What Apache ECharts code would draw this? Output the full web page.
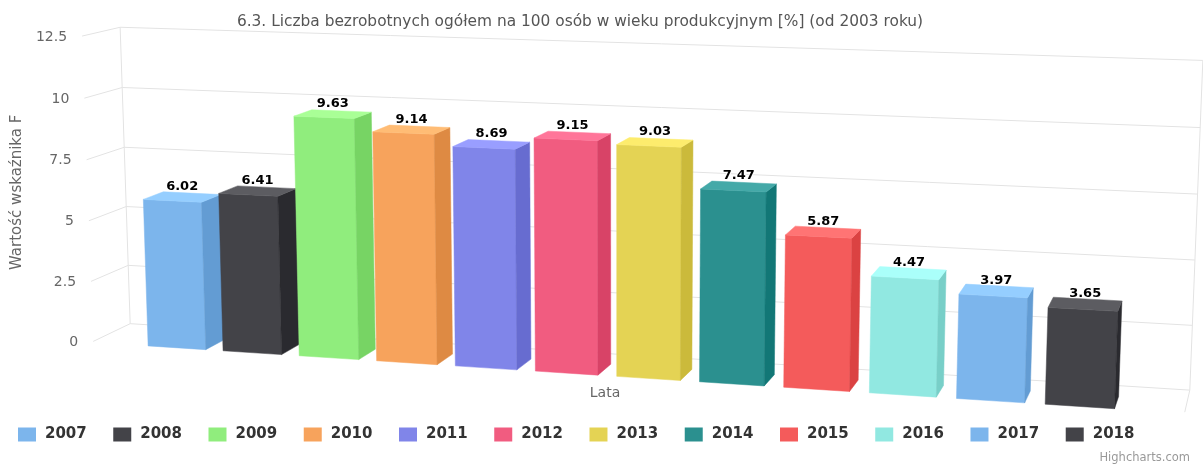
<!DOCTYPE html>
<html lang="pl">
<head>
    <meta charset="UTF-8">
    <title>Wykres 6.3</title>
    <style>
        html, body { margin: 0; padding: 0; background: #fff; }
        #chart { width: 1203px; height: 468px; }
    </style>
</head>
<body>
<div id="chart"></div>
<script src="https://cdn.jsdelivr.net/npm/echarts@6/dist/echarts.min.js"></script>
<script>
    // dane
    var years = ['2007', '2008', '2009', '2010', '2011', '2012', '2013', '2014', '2015', '2016', '2017', '2018'];
    var values = [6.02, 6.41, 9.63, 9.14, 8.69, 9.15, 9.03, 7.47, 5.87, 4.47, 3.97, 3.65];
    var yTicks = [0, 2.5, 5, 7.5, 10, 12.5];
    var yTickLabels = ['0', '2.5', '5', '7.5', '10', '12.5'];
    var colors = ['#7cb5ec', '#434348', '#90ed7d', '#f7a35c', '#8085e9', '#f15c80',
        '#e4d354', '#2b908f', '#f45b5b', '#91e8e1', '#7cb5ec', '#434348'];

    // "3D" - rzut perspektywiczny plaskiego ukladu wspolrzednych
    var ALPHA = 10.1 * Math.PI / 180;
    var BETA = 15.2 * Math.PI / 180;
    var VIEW = 2600;          // odleglosc obserwatora
    var CENTER = [620, 208];  // srodek pudelka na ekranie
    var DEPTH = 88;           // glebokosc ramki
    var PAD = 55;             // margines ramki po bokach
    var BAR_Z = -4, BAR_D = 48;
    var GRID_LINE = '#e3e3e3';

    function makeProj(cs) {
        var W = cs.width + 2 * PAD, H = cs.height;
        var ca = Math.cos(ALPHA), sa = Math.sin(ALPHA), cb = Math.cos(BETA), sb = Math.sin(BETA);
        return {
            W: W,
            H: H,
            // piksel siatki -> swiat
            wx: function (px) { return px - cs.x + PAD; },
            wy: function (py) { return cs.y + cs.height - py; },
            p: function (X, Y, Z) {
                var x = X - W / 2, y = Y - H / 2, z = Z - DEPTH / 2;
                var x1 = x * cb + z * sb, z1 = -x * sb + z * cb;
                var y2 = y * ca + z1 * sa, z2 = -y * sa + z1 * ca;
                var s = VIEW / (VIEW + z2);
                return [CENTER[0] + x1 * s, CENTER[1] - y2 * s];
            }
        };
    }

    function shade(hex, d) {
        var n = parseInt(hex.slice(1), 16);
        var r = Math.max(0, Math.min(255, (n >> 16) + d));
        var g = Math.max(0, Math.min(255, ((n >> 8) & 255) + d));
        var b = Math.max(0, Math.min(255, (n & 255) + d));
        return 'rgb(' + r + ',' + g + ',' + b + ')';
    }

    function line(a, b) {
        return {
            type: 'line',
            shape: {x1: a[0], y1: a[1], x2: b[0], y2: b[1]},
            style: {stroke: GRID_LINE, lineWidth: 1}
        };
    }

    // ramka: linie siatki na tylnej i lewej scianie + etykiety osi Y
    function renderFrame(params, api) {
        var cs = params.coordSys;
        var pr = makeProj(cs);
        var t = api.value(1);
        var Y = pr.wy(api.coord([0, t])[1]);
        var front = pr.p(0, Y, 0), back = pr.p(0, Y, DEPTH), backR = pr.p(pr.W, Y, DEPTH);
        var children = [
            line(front, back),
            line(back, backR),
            {
                type: 'text',
                x: front[0] - 15,
                y: front[1] + 1,
                style: {
                    text: yTickLabels[params.dataIndex],
                    fill: '#666',
                    fontSize: 14,
                    fontFamily: 'DejaVu Sans',
                    align: 'right',
                    verticalAlign: 'middle'
                }
            }
        ];
        if (params.dataIndex === 0) {
            children.push(line(pr.p(0, 0, DEPTH), pr.p(0, pr.H, DEPTH)));
            children.push(line(pr.p(pr.W, 0, DEPTH), pr.p(pr.W, pr.H, DEPTH)));
            children.push(line(pr.p(pr.W, 0, 0), pr.p(pr.W, 0, DEPTH)));
        }
        return {type: 'group', children: children};
    }

    function renderBar(params, api) {
        var cs = params.coordSys;
        var pr = makeProj(cs);
        var idx = api.value(0), v = api.value(1);
        var top = api.coord([idx, v]), base = api.coord([idx, 0]);
        var bw = api.size([1, 0])[0] * 0.77;
        var xl = pr.wx(top[0] - bw / 2), xr = xl + bw;
        var yt = pr.wy(top[1]), yb = pr.wy(base[1]);
        var z0 = BAR_Z, z1 = BAR_Z + BAR_D;
        var P = pr.p;
        var c = api.visual('color');
        var lab = P((xl + xr) / 2, yt, (z0 + z1) / 2);
        return {
            type: 'group',
            children: [
                {type: 'polygon', shape: {points: [P(xl, yb, z0), P(xr, yb, z0), P(xr, yt, z0), P(xl, yt, z0)]},
                    style: {fill: c, stroke: c, lineWidth: 0.5}},
                {type: 'polygon', shape: {points: [P(xr, yb, z0), P(xr, yb, z1), P(xr, yt, z1), P(xr, yt, z0)]},
                    style: {fill: shade(c, -25), stroke: shade(c, -25), lineWidth: 0.5}},
                {type: 'polygon', shape: {points: [P(xl, yt, z0), P(xr, yt, z0), P(xr, yt, z1), P(xl, yt, z1)]},
                    style: {fill: shade(c, 25), stroke: shade(c, 25), lineWidth: 0.5}},
                {type: 'text', x: lab[0], y: lab[1] - 4,
                    style: {
                        text: v.toFixed(2),
                        fill: '#000',
                        fontSize: 13,
                        fontWeight: 'bold',
                        fontFamily: 'DejaVu Sans',
                        align: 'center',
                        verticalAlign: 'bottom',
                        stroke: '#fff',
                        lineWidth: 2
                    }}
            ]
        };
    }

    var series = [{
        type: 'custom',
        name: 'frame',
        z: 1,
        silent: true,
        renderItem: renderFrame,
        data: yTicks.map(function (t) { return [0, t]; })
    }];
    years.forEach(function (y, i) {
        series.push({
            type: 'custom',
            name: y,
            z: 2 + i,
            itemStyle: {color: colors[i]},
            renderItem: renderBar,
            data: [[i, values[i]]]
        });
    });

    var chart = echarts.init(document.getElementById('chart'));
    chart.setOption({
        animation: false,
        textStyle: {fontFamily: '"DejaVu Sans", sans-serif'},
        title: {
            text: '6.3. Liczba bezrobotnych ogółem na 100 osób w wieku produkcyjnym [%] (od 2003 roku)',
            left: 575,
            top: 9,
            textAlign: 'center',
            textStyle: {fontSize: 15.4, fontWeight: 'normal', color: '#555'}
        },
        legend: {
            data: years,
            left: 13,
            top: 422,
            icon: 'rect',
            itemWidth: 18,
            itemHeight: 14,
            itemGap: 26.5,
            textStyle: {fontSize: 15, fontWeight: 'bold', color: '#333', padding: [0, 0, 0, 4]}
        },
        grid: {left: 100, top: 40, width: 1013, height: 322},
        xAxis: {type: 'category', data: years, show: false},
        yAxis: {type: 'value', min: 0, max: 12.5, interval: 2.5, show: false},
        graphic: [
            {type: 'text', x: 10, y: 270, rotation: Math.PI / 2,
                style: {text: 'Wartość wskaźnika F', fill: '#666', fontSize: 15, fontFamily: 'DejaVu Sans'}},
            {type: 'text', x: 605, y: 393,
                style: {text: 'Lata', fill: '#666', fontSize: 14, fontFamily: 'DejaVu Sans', align: 'center', verticalAlign: 'middle'}},
            {type: 'text', x: 1190, y: 458,
                style: {text: 'Highcharts.com', fill: '#999', fontSize: 11.5, fontFamily: 'DejaVu Sans', align: 'right', verticalAlign: 'middle'}}
        ],
        series: series
    });
</script>
</body>
</html>
